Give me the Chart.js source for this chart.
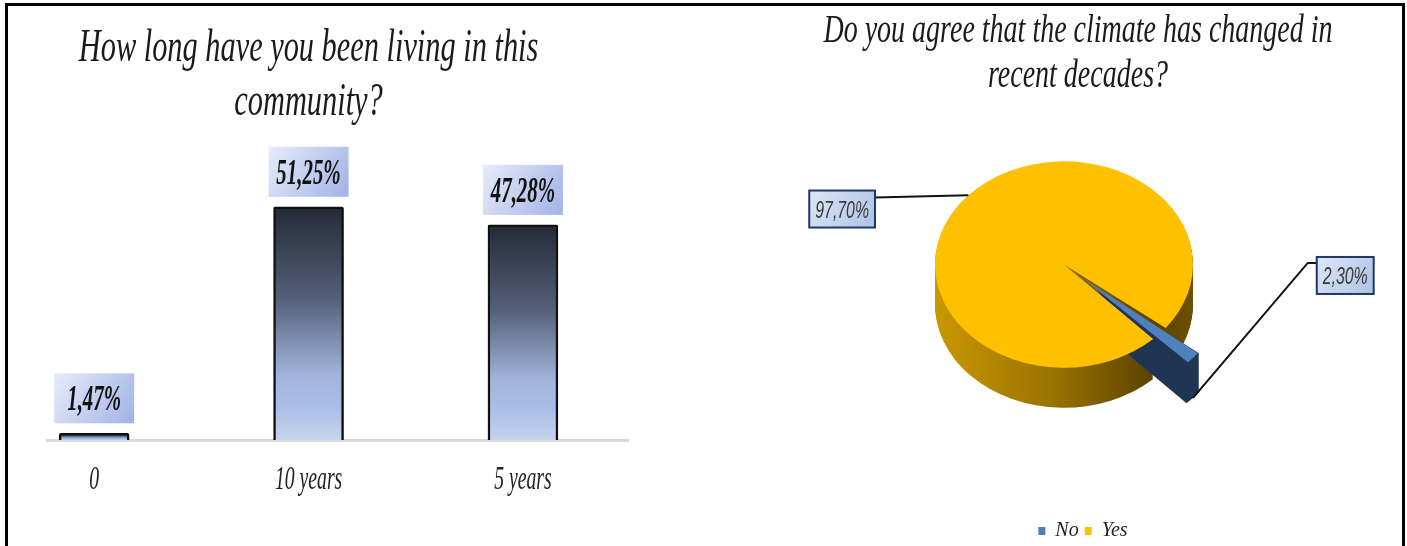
<!DOCTYPE html>
<html>
<head>
<meta charset="utf-8">
<title>Community survey</title>
<script src="https://cdn.jsdelivr.net/npm/chart.js@4.4.0/dist/chart.umd.min.js"></script>
<style>
  body { margin: 0; background: #fff; }
  #frame { position: absolute; left: 5px; top: 3px; width: 1400px; height: 543px; box-sizing: border-box;
           border: 3px solid #000; border-bottom: none; }
  canvas { position: absolute; top: 0; }
  #barChart { left: 0; }
  #pieChart { left: 700px; }
</style>
</head>
<body>
<div id="frame"></div>
<canvas id="barChart" width="700" height="546"></canvas>
<canvas id="pieChart" width="707" height="546"></canvas>
<script>
const yearCategories = ['0', '10 years', '5 years'];
const yearShares = [1.47, 51.25, 47.28];
const barTitle = ['How long have you been living in this', 'community?'];

const climateAnswers = ['No', 'Yes'];
const climateShares = [2.30, 97.70];
const pieTitle = ['Do you agree that the climate has changed in', 'recent decades?'];

const tilt = 0.8;   // pie top squeezed into an ellipse
const depth = 40;   // pie thickness in px

function pct(v) {
    return v.toFixed(2).replace('.', ',') + '%';
}

// the original figure uses a very narrow italic face, so squeeze the text
function narrowText(ctx, text, x, y, font, sx, color) {
    ctx.save();
    ctx.font = font;
    ctx.fillStyle = color;
    ctx.textAlign = 'center';
    ctx.textBaseline = 'alphabetic';
    ctx.translate(x, y);
    ctx.scale(sx, 1);
    ctx.fillText(text, 0, 0);
    ctx.restore();
}

function barFill(context) {
    const chart = context.chart;
    if (!chart.chartArea || !context.parsed) {
        return '#3a4558';
    }
    const y = chart.scales.y;
    const top = y.getPixelForValue(context.parsed.y);
    const bottom = y.getPixelForValue(0);
    const g = chart.ctx.createLinearGradient(0, top, 0, bottom);
    g.addColorStop(0, '#242a35');
    g.addColorStop(0.4, '#55617a');
    g.addColorStop(0.72, '#a2b4dc');
    g.addColorStop(0.86, '#abbee7');
    g.addColorStop(1, '#c7d4ee');
    return g;
}

const barDecor = {
    id: 'barDecor',
    afterDatasetsDraw(chart) {
        const ctx = chart.ctx;
        chart.getDatasetMeta(0).data.forEach((bar, i) => {
            const w = 80, h = 50;
            const left = bar.x - w / 2;
            const top = bar.y - 10 - h;
            const g = ctx.createLinearGradient(left, top, left + w, top + h);
            g.addColorStop(0, '#e7ecf9');
            g.addColorStop(1, '#a1b2e6');
            ctx.fillStyle = g;
            ctx.fillRect(left, top, w, h);
            narrowText(ctx, pct(yearShares[i]), bar.x, top + 37, 'italic bold 36px "Liberation Serif"', 0.58, '#111');
        });
    },
    afterDraw(chart) {
        const ctx = chart.ctx;
        const x = chart.scales.x;
        yearCategories.forEach((c, i) => {
            narrowText(ctx, c, x.getPixelForValue(i), 489, 'italic 34px "Liberation Serif"', 0.58, '#222');
        });
        const mid = (x.getPixelForValue(0) + x.getPixelForValue(yearCategories.length - 1)) / 2;
        barTitle.forEach((line, i) => {
            narrowText(ctx, line, mid, 61 + i * 54, 'italic 46px "Liberation Serif"', 0.66, '#1a1a1a');
        });
    }
};

new Chart(document.getElementById('barChart'), {
    type: 'bar',
    data: {
        datasets: [{
            data: yearShares.map((v, i) => ({ x: i, y: v })),
            backgroundColor: barFill,
            borderColor: '#111',
            borderWidth: 2.5,
            borderRadius: 2,
            barThickness: 70
        }]
    },
    options: {
        responsive: false,
        animation: false,
        layout: { padding: { left: 47, right: 72, top: 167, bottom: 106 } },
        plugins: {
            legend: { display: false },
            tooltip: { enabled: false }
        },
        scales: {
            x: {
                type: 'linear',
                offset: false,
                min: -0.22,
                max: 2.49,
                grid: { display: false, drawTicks: false },
                border: { color: '#d9d9d9', width: 3 },
                ticks: { display: false }
            },
            y: { display: false, min: 0, max: 60 }
        }
    },
    plugins: [barDecor]
});

// outward shift Chart.js gives a pulled-out slice
function arcShift(arc) {
    const off = (arc.options.offset || 0) / 4;
    const fix = 1 - Math.sin(Math.min(Math.PI, arc.circumference || 0));
    const mid = (arc.startAngle + arc.endAngle) / 2;
    return { dx: Math.cos(mid) * off * (1 + fix), dy: Math.sin(mid) * off * (1 + fix), mid: mid };
}

const pie3d = {
    id: 'pie3d',
    beforeDatasetsDraw(chart) {
        const ctx = chart.ctx;
        const arcs = chart.getDatasetMeta(0).data;
        const cx = arcs[0].x, cy = arcs[0].y, r = arcs[0].outerRadius;
        const wall = ctx.createLinearGradient(cx - r, 0, cx + r, 0);
        wall.addColorStop(0, '#c99800');
        wall.addColorStop(0.45, '#9a7300');
        wall.addColorStop(0.85, '#5a4200');
        wall.addColorStop(1, '#6d5100');
        const wallFill = ['#1f3552', wall];
        const order = arcs.map((a, i) => i)
            .sort((a, b) => (arcs[a].options.offset || 0) - (arcs[b].options.offset || 0));
        order.forEach(i => {
            const a = arcs[i];
            const s = arcShift(a);
            ctx.fillStyle = wallFill[i];
            for (let d = depth; d > 0; d--) {
                ctx.save();
                ctx.translate(0, cy + d);
                ctx.scale(1, tilt);
                ctx.translate(0, -cy);
                ctx.beginPath();
                ctx.moveTo(a.x + s.dx, a.y + s.dy);
                ctx.arc(a.x + s.dx, a.y + s.dy, a.outerRadius, a.startAngle, a.endAngle);
                ctx.closePath();
                ctx.fill();
                ctx.restore();
            }
        });
        // top faces, drawn by Chart.js, get the same squeeze
        ctx.save();
        ctx.translate(0, cy);
        ctx.scale(1, tilt);
        ctx.translate(0, -cy);
    },
    afterDatasetsDraw(chart) {
        chart.ctx.restore();
    }
};

const callouts = {
    id: 'callouts',
    afterDraw(chart) {
        const ctx = chart.ctx;
        const arcs = chart.getDatasetMeta(0).data;
        // label box centres, in radii from the pie centre
        const spots = [{ bx: 2.18, by: 0.085 }, { bx: -1.72, by: -0.43 }];
        arcs.forEach((a, i) => {
            const s = arcShift(a);
            const r = a.outerRadius;
            const ax = a.x + s.dx + Math.cos(s.mid) * r;
            let ay = a.y + (s.dy + Math.sin(s.mid) * r) * tilt;
            if (a.options.offset) {
                ay += depth;
            }
            const text = pct(climateShares[i]);
            ctx.font = 'italic 24px "Liberation Sans"';
            const w = ctx.measureText(text).width * 0.66 + 12;
            const h = 37;
            const bx = a.x + spots[i].bx * r - w / 2;
            const by = a.y + spots[i].by * r - h / 2;

            ctx.save();
            ctx.strokeStyle = '#111';
            ctx.lineWidth = 2;
            ctx.beginPath();
            ctx.moveTo(ax, ay);
            if (bx > ax) {
                ctx.lineTo(bx - 9, by + 6);
                ctx.lineTo(bx, by + 6);
            } else {
                ctx.lineTo(bx + w, by + 7);
            }
            ctx.stroke();

            const g = ctx.createLinearGradient(bx, by, bx + w, by + h);
            g.addColorStop(0, '#dde7f5');
            g.addColorStop(1, '#adc2e6');
            ctx.fillStyle = g;
            ctx.fillRect(bx, by, w, h);
            ctx.strokeStyle = '#1f3864';
            ctx.strokeRect(bx, by, w, h);
            ctx.restore();
            narrowText(ctx, text, bx + w / 2, by + 27, 'italic 24px "Liberation Sans"', 0.66, '#3a3a3a');
        });

        pieTitle.forEach((line, i) => {
            narrowText(ctx, line, 378, 42 + i * 45, 'italic 40px "Liberation Serif"', 0.70, '#1a1a1a');
        });
    }
};

const legendNudge = {
    id: 'legendNudge',
    afterLayout(chart) {
        chart.legend.left += 19;
        chart.legend.right += 19;
    }
};

new Chart(document.getElementById('pieChart'), {
    type: 'pie',
    data: {
        labels: climateAnswers,
        datasets: [{
            data: climateShares,
            backgroundColor: ['#4f81bd', '#ffc000'],
            borderWidth: 0,
            offset: [97, 0],
            rotation: 128,
            radius: 129
        }]
    },
    options: {
        responsive: false,
        animation: false,
        layout: { padding: { left: 150, right: 129, top: 14, bottom: -5 } },
        plugins: {
            legend: {
                position: 'bottom',
                labels: {
                    boxWidth: 7,
                    boxHeight: 8,
                    padding: 6,
                    color: '#222',
                    font: { family: '"Liberation Serif"', style: 'italic', size: 20 }
                }
            },
            tooltip: { enabled: false }
        }
    },
    plugins: [pie3d, callouts, legendNudge]
});
</script>
</body>
</html>
